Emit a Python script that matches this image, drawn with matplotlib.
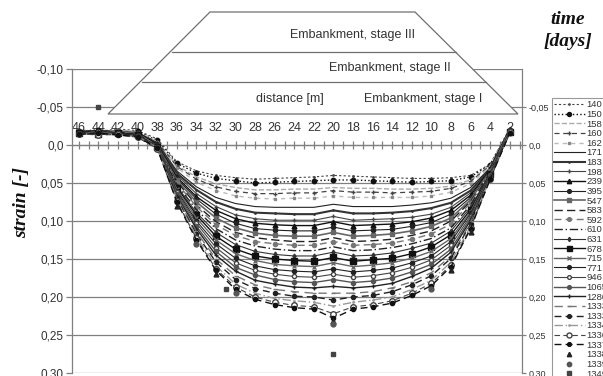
import matplotlib
matplotlib.use("Agg")
import matplotlib.pyplot as plt
from matplotlib.patches import Polygon
from matplotlib.lines import Line2D
from matplotlib.ticker import MultipleLocator, FixedLocator, FixedFormatter

# distance along the embankment [m]
dist = [46, 44, 42, 40, 38, 36, 34, 32, 30, 28, 26, 24, 22, 20, 18, 16, 14, 12, 10, 8, 6, 4, 2]

# strain profiles, one list per measuring time [days]
s140 = [-.020, -.018, -.021, -.019, -.008, .022, .034, .040, .043, .045, .044, .043, .042, .040, .041, .042, .043, .044, .044, .043, .040, .025, -.022]
s150 = [-.018, -.020, -.017, -.018, -.006, .024, .037, .044, .047, .050, .049, .048, .047, .046, .046, .047, .048, .049, .048, .047, .042, .026, -.020]
s158 = [-.019, -.017, -.020, -.017, -.005, .027, .042, .051, .056, .059, .059, .058, .058, .056, .057, .057, .058, .058, .057, .054, .046, .027, -.021]
s160 = [-.017, -.019, -.018, -.016, -.004, .028, .045, .055, .061, .064, .064, .063, .063, .060, .062, .062, .063, .062, .061, .057, .048, .027, -.019]
s162 = [-.018, -.016, -.019, -.017, -.004, .030, .049, .060, .067, .070, .071, .070, .070, .067, .069, .069, .069, .069, .067, .062, .051, .028, -.020]
s171 = [-.019, -.017, -.018, -.015, -.003, .034, .055, .069, .077, .081, .082, .082, .082, .078, .081, .081, .081, .079, .076, .070, .056, .030, -.021]
s183 = [-.016, -.018, -.017, -.016, -.002, .037, .059, .075, .084, .089, .090, .091, .091, .086, .090, .090, .089, .087, .083, .076, .060, .031, -.020]
s198 = [-.018, -.016, -.019, -.015, -.002, .039, .064, .081, .092, .097, .099, .099, .099, .094, .099, .098, .097, .095, .091, .082, .063, .032, -.019]
s239 = [-.017, -.019, -.016, -.016, -.001, .042, .068, .086, .097, .103, .105, .106, .106, .101, .106, .105, .104, .101, .096, .086, .066, .032, -.020]
s395 = [-.016, -.018, -.017, -.014, .000, .044, .071, .091, .103, .110, .112, .113, .113, .108, .113, .112, .111, .107, .102, .091, .069, .033, -.018]
s547 = [-.017, -.015, -.018, -.015, .001, .046, .075, .096, .109, .116, .119, .120, .120, .115, .120, .119, .117, .113, .107, .096, .072, .034, -.019]
s583 = [-.018, -.016, -.017, -.014, .001, .048, .079, .101, .115, .122, .125, .127, .127, .122, .127, .126, .124, .119, .113, .100, .074, .035, -.018]
s592 = [-.016, -.017, -.015, -.015, .002, .050, .081, .105, .119, .127, .130, .132, .132, .127, .132, .131, .129, .124, .117, .104, .076, .035, -.019]
s610 = [-.017, -.015, -.016, -.013, .002, .052, .085, .110, .125, .133, .137, .139, .139, .134, .139, .138, .135, .130, .123, .109, .079, .036, -.017]
s631 = [-.015, -.016, -.014, -.014, .003, .054, .089, .115, .131, .140, .144, .146, .146, .141, .146, .145, .142, .136, .129, .113, .082, .037, -.018]
s678 = [-.016, -.014, -.016, -.013, .003, .056, .092, .120, .137, .146, .150, .152, .153, .148, .153, .151, .149, .143, .134, .118, .085, .038, -.017]
s715 = [-.015, -.016, -.015, -.012, .002, .058, .096, .125, .143, .152, .157, .159, .160, .155, .160, .158, .155, .149, .140, .123, .088, .039, -.018]
s771 = [-.016, -.014, -.016, -.013, .002, .060, .100, .130, .149, .159, .164, .166, .167, .163, .167, .165, .162, .155, .146, .127, .090, .039, -.016]
s946 = [-.015, -.015, -.014, -.012, .003, .062, .103, .135, .155, .165, .170, .173, .174, .170, .174, .172, .168, .161, .151, .132, .093, .040, -.017]
s1065 = [-.014, -.016, -.015, -.012, .004, .064, .107, .140, .161, .171, .177, .180, .181, .177, .181, .179, .175, .167, .157, .137, .096, .041, -.016]
s1280 = [-.015, -.014, -.016, -.011, .004, .067, .110, .145, .166, .178, .183, .187, .188, .186, .188, .186, .182, .173, .162, .141, .099, .042, -.017]
s1333a = [-.014, -.015, -.014, -.011, .003, .069, .114, .150, .172, .184, .190, .193, .195, .195, .195, .193, .188, .180, .168, .146, .102, .043, -.016]
s1333b = [-.015, -.014, -.015, -.012, .004, .070, .117, .154, .177, .189, .195, .199, .200, .204, .200, .198, .193, .184, .172, .149, .104, .043, -.017]
s1334 = [-.014, -.015, -.013, -.011, .004, .072, .120, .159, .183, .195, .202, .205, .207, .212, .207, .204, .200, .190, .178, .154, .107, .044, -.016]
s1336 = [-.015, -.013, -.014, -.010, .005, .074, .123, .163, .187, .200, .207, .211, .213, .222, .213, .210, .205, .195, .182, .158, .109, .045, -.017]
s1337 = [-.014, -.016, -.013, -.011, .004, .075, .125, .165, .190, .203, .210, .214, .216, .228, .216, .213, .208, .198, .185, .160, .110, .045, -.016]

# single readings (markers only)
d1338 = [36, 32, 20, 8, 6]
s1338 = [.080, .170, .232, .165, .115]
d1339 = [34, 30, 20, 10]
s1339 = [.130, .195, .236, .190]
d1349 = [44, 31, 20]
s1349 = [-.050, .190, .275]

line_series = [
    ("140", s140, dict(ls=(0, (2, 2)), color="#444", lw=0.8, marker=".", ms=2)),
    ("150", s150, dict(ls=":", color="#111", lw=1.0, marker="o", ms=3.2)),
    ("158", s158, dict(ls="--", color="#aaa", lw=1.0)),
    ("160", s160, dict(ls=(0, (4, 3)), color="#444", lw=0.9, marker="+", ms=3)),
    ("162", s162, dict(ls=(0, (3, 3)), color="#bbb", lw=1.0, marker="s", ms=2, mfc="#888", mec="#888")),
    ("171", s171, dict(ls="-", color="#222", lw=0.8)),
    ("183", s183, dict(ls="-", color="#333", lw=1.5, marker=".", ms=2)),
    ("198", s198, dict(ls="-", color="#444", lw=0.8, marker="+", ms=3)),
    ("239", s239, dict(ls="-", color="#111", lw=1.0, marker="^", ms=3.5)),
    ("395", s395, dict(ls="-", color="#222", lw=0.8, marker="o", ms=3)),
    ("547", s547, dict(ls="-", color="#666", lw=1.2, marker="s", ms=3.5)),
    ("583", s583, dict(ls=(0, (6, 3)), color="#222", lw=1.0)),
    ("592", s592, dict(ls=(0, (5, 3)), color="#777", lw=1.0, marker="o", ms=3)),
    ("610", s610, dict(ls=(0, (6, 2, 1, 2)), color="#222", lw=1.0)),
    ("631", s631, dict(ls="-", color="#333", lw=0.8, marker="d", ms=2.5)),
    ("678", s678, dict(ls="-", color="#111", lw=1.0, marker="s", ms=4)),
    ("715", s715, dict(ls="-", color="#666", lw=1.0, marker="x", ms=3)),
    ("771", s771, dict(ls="-", color="#222", lw=0.8, marker="o", ms=3)),
    ("946", s946, dict(ls="-", color="#444", lw=0.8, marker="o", ms=3, mfc="white")),
    ("1065", s1065, dict(ls="-", color="#555", lw=1.0, marker="o", ms=3)),
    ("1280", s1280, dict(ls="-", color="#222", lw=1.0, marker="+", ms=3)),
    ("1333", s1333a, dict(ls=(0, (6, 4)), color="#777", lw=1.0, marker="_", ms=3)),
    ("1333", s1333b, dict(ls=(0, (5, 3)), color="#222", lw=1.0, marker="o", ms=3)),
    ("1334", s1334, dict(ls=(0, (6, 2, 1, 2)), color="#999", lw=1.0, marker=".", ms=2)),
    ("1336", s1336, dict(ls=(0, (5, 3)), color="#444", lw=0.8, marker="o", ms=4, mfc="white")),
    ("1337", s1337, dict(ls=(0, (5, 3)), color="#111", lw=1.0, marker="o", ms=3)),
]
point_series = [
    ("1338", d1338, s1338, dict(ls="none", color="#222", marker="^", ms=3.5)),
    ("1339", d1339, s1339, dict(ls="none", color="#555", marker="o", ms=3.5)),
    ("1349", d1349, s1349, dict(ls="none", color="#444", marker="s", ms=3.5)),
]

left_ticks = [-0.10, -0.05, 0.0, 0.05, 0.10, 0.15, 0.20, 0.25, 0.30]
left_labels = ["-0,10", "-0,05", "0,0", "0,05", "0,10", "0,15", "0,20", "0,25", "0,30"]
x_ticks = list(range(46, 1, -2))

W, H = 603, 376
fig = plt.figure(figsize=(W / 100, H / 100), dpi=100)
ax = fig.add_axes([72 / W, 3 / H, 450 / W, 304 / H])
grey = "#808080"
txt = "#333333"
sans = "Liberation Sans"
serif = "Liberation Serif"

for lab, ys, st in line_series:
    ax.plot(dist, ys, label=lab, zorder=3, **st)
for lab, xs, ys, st in point_series:
    ax.plot(xs, ys, label=lab, zorder=3, **st)

ax.set_xlim(46.7, 0.75)
ax.set_ylim(0.30, -0.10)

# y axis + grid
ax.yaxis.set_major_locator(FixedLocator(left_ticks))
ax.yaxis.set_major_formatter(FixedFormatter(left_labels))
ax.yaxis.grid(True, color=grey, lw=0.9)
ax.tick_params(axis="y", left=True, direction="out", length=4, width=0.9, color=grey,
               labelsize=8.5, labelcolor=txt, pad=2)
for lbl in ax.get_yticklabels():
    lbl.set_fontfamily(sans)

# x axis drawn along strain = 0 with labels above it
ax.spines["bottom"].set_visible(False)
ax.spines["top"].set_position(("data", 0))
ax.xaxis.set_ticks_position("top")
ax.xaxis.set_major_locator(FixedLocator(x_ticks))
ax.xaxis.set_minor_locator(MultipleLocator(1))
ax.xaxis.set_major_formatter(FixedFormatter([str(v) for v in x_ticks]))
ax.tick_params(axis="x", which="both", direction="inout", length=6, width=0.9, color=grey,
               labelsize=9, labelcolor=txt, pad=5)
for lbl in ax.get_xticklabels():
    lbl.set_fontfamily(sans)
for sp in ["left", "right", "top"]:
    ax.spines[sp].set_color(grey)
    ax.spines[sp].set_linewidth(0.9)

# right hand axis
ax2 = ax.twinx()
ax2.set_ylim(0.30, -0.10)
ax2.yaxis.set_major_locator(FixedLocator(left_ticks[1:]))
ax2.yaxis.set_major_formatter(FixedFormatter(left_labels[1:]))
ax2.tick_params(axis="y", direction="out", length=3, width=0.9, color=grey,
                labelsize=6.5, labelcolor=txt, pad=2)
for sp in ax2.spines.values():
    sp.set_visible(False)
for lbl in ax2.get_yticklabels():
    lbl.set_fontfamily(sans)

ax.set_ylabel("strain [-]", fontfamily=serif, fontweight="bold", fontstyle="italic",
              fontsize=14, color="#111")
ax.yaxis.set_label_coords(-0.092, 0.56)

# embankment sketch on top of the plot
def fx(px):
    return px / W

def fy(py):
    return 1 - py / H

outline = [(108, 114), (210, 12), (415, 12), (518, 114)]
emb = Polygon([(fx(x), fy(y)) for x, y in outline], closed=True, transform=fig.transFigure,
              facecolor="white", edgecolor="#707070", lw=0.9, zorder=2)
fig.add_artist(emb)
for y, x0, x1 in [(52, 172, 456), (82, 142, 486)]:
    fig.add_artist(Line2D([fx(x0), fx(x1)], [fy(y), fy(y)], transform=fig.transFigure,
                          color="#707070", lw=0.9, zorder=2))
for s, x, y in [("Embankment, stage III", 352, 35), ("Embankment, stage II", 390, 68),
                ("distance [m]", 290, 99), ("Embankment, stage I", 423, 99)]:
    fig.text(fx(x), fy(y), s, ha="center", va="center", fontsize=9, color=txt,
             fontfamily=sans, zorder=4)

fig.text(fx(568), fy(19), "time", ha="center", va="center", fontsize=14, color="#111",
         fontfamily=serif, fontweight="bold", fontstyle="italic")
fig.text(fx(568), fy(42), "[days]", ha="center", va="center", fontsize=14, color="#111",
         fontfamily=serif, fontweight="bold", fontstyle="italic")

handles, labels = ax.get_legend_handles_labels()
leg = fig.legend(handles, labels, loc="upper left", bbox_to_anchor=(fx(552), fy(98)),
                 bbox_transform=fig.transFigure, fontsize=6.8, ncol=1, frameon=True,
                 fancybox=False, edgecolor=grey, handlelength=3.2, handletextpad=0.2,
                 labelspacing=0.065, borderpad=0.25, borderaxespad=0, markerscale=0.9)
leg.get_frame().set_linewidth(0.8)
for t in leg.get_texts():
    t.set_fontfamily(sans)
    t.set_color(txt)

fig.savefig("out.png", dpi=100)
